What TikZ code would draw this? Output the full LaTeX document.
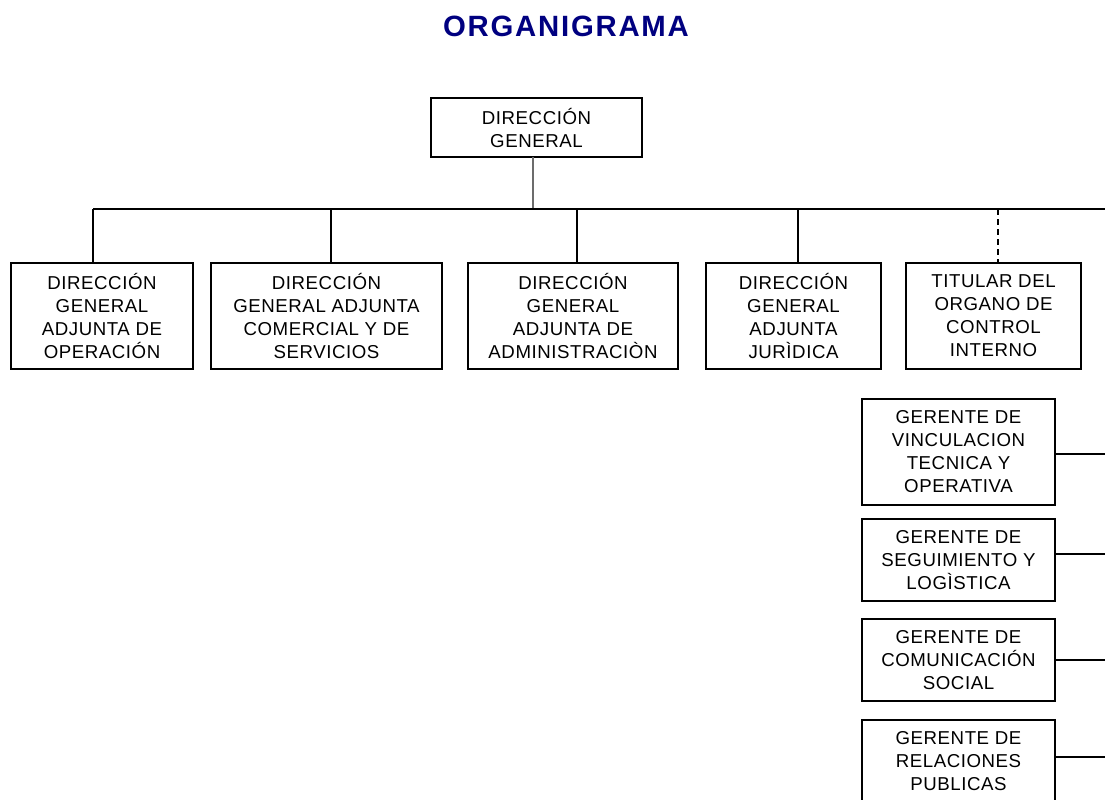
\documentclass[tikz,border=0pt]{standalone}
\usepackage{fontspec}
\setmainfont{Liberation Sans}
\definecolor{azultitulo}{RGB}{0,0,128}

\begin{document}
\begin{tikzpicture}[x=0.75pt, y=-0.75pt,
        caja/.style={draw=black, line width=1pt, inner sep=0pt, outer sep=0pt,
            align=center, font=\fontsize{14}{17.25}\selectfont\addfontfeature{LetterSpace=3}},
        linea/.style={black, line width=1pt}]
                \useasboundingbox (0, 0) rectangle (1105, 799);
                \clip (0, 0) rectangle (1105, 799);
                \node (titulo) [anchor=base, text=azultitulo,
                    font=\fontsize{22}{26}\selectfont\bfseries\addfontfeature{LetterSpace=6}]
                    at (566, 37) {ORGANIGRAMA};
                \node (dg) [caja, minimum width=158.25pt, minimum height=44.25pt] at (536.5, 127.5) {DIRECCIÓN\\GENERAL};
                \node (op) [caja, minimum width=136.5pt, minimum height=79.5pt] at (102, 316) {DIRECCIÓN\\GENERAL\\ADJUNTA DE\\OPERACIÓN};
                \node (com) [caja, minimum width=173.25pt, minimum height=79.5pt] at (326.5, 316) {DIRECCIÓN\\GENERAL ADJUNTA\\COMERCIAL Y DE\\SERVICIOS};
                \node (adm) [caja, minimum width=157.5pt, minimum height=79.5pt] at (573, 316) {DIRECCIÓN\\GENERAL\\ADJUNTA DE\\ADMINISTRACIÒN};
                \node (jur) [caja, minimum width=131.25pt, minimum height=79.5pt] at (793.5, 316) {DIRECCIÓN\\GENERAL\\ADJUNTA\\JURÌDICA};
                \node (oic) [caja, minimum width=131.25pt, minimum height=79.5pt] at (993.5, 316) {TITULAR DEL\\ORGANO DE\\CONTROL\\INTERNO};
                \node (vin) [caja, minimum width=144.75pt, minimum height=79.5pt] at (958.5, 452) {GERENTE DE\\VINCULACION\\TECNICA Y\\OPERATIVA};
                \node (seg) [caja, minimum width=144.75pt, minimum height=61.5pt] at (958.5, 560) {GERENTE DE\\SEGUIMIENTO Y\\LOGÌSTICA};
                \node (cs) [caja, minimum width=144.75pt, minimum height=61.5pt] at (958.5, 660) {GERENTE DE\\COMUNICACIÓN\\SOCIAL};
                \node (rp) [caja, minimum width=144.75pt, minimum height=61.5pt] at (958.5, 761) {GERENTE DE\\RELACIONES\\PUBLICAS};
                \coordinate (b0) at (533, 209);
                \coordinate (b1) at (93, 209);
                \coordinate (b2) at (331, 209);
                \coordinate (b3) at (577, 209);
                \coordinate (b4) at (798, 209);
                \coordinate (b5) at (998, 209);
                \coordinate (bfin) at (1105, 209);
                \draw [gray!85!black, line width=1.6pt] (b0 |- dg.south) -- (b0);
                \draw [linea] (b1) -- (bfin);
                \draw [linea] (b1) -- (b1 |- op.north);
                \draw [linea] (b2) -- (b2 |- com.north);
                \draw [linea] (b3) -- (b3 |- adm.north);
                \draw [linea] (b4) -- (b4 |- jur.north);
                \draw [linea, dash pattern=on 4.5pt off 3pt] (b5) -- (b5 |- oic.north);
                \draw [linea] ([yshift=-1.5pt]vin.east) -- ([yshift=-1.5pt]vin.east -| bfin);
                \draw [linea] ([yshift=4.5pt]seg.east) -- ([yshift=4.5pt]seg.east -| bfin);
                \draw [linea] (cs.east) -- (cs.east -| bfin);
                \draw [linea] ([yshift=3pt]rp.east) -- ([yshift=3pt]rp.east -| bfin);
            \end{tikzpicture}
\end{document}
